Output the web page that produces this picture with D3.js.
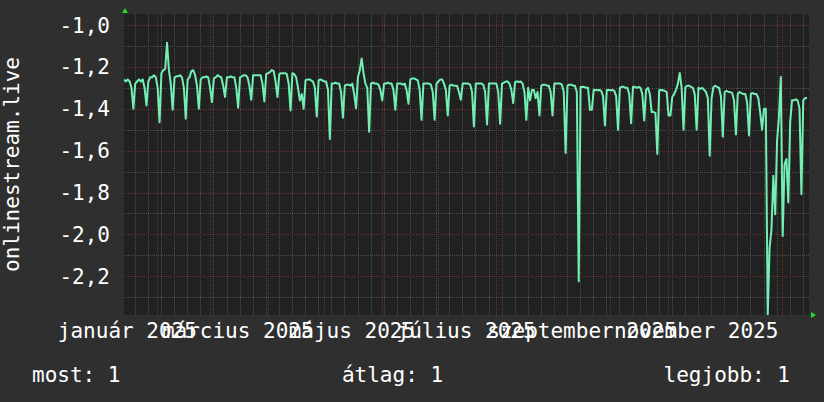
<!DOCTYPE html>
<html>
<head>
<meta charset="utf-8">
<script src="https://cdn.jsdelivr.net/npm/d3@7"></script>
<style>
  html, body { margin: 0; padding: 0; background: #2f2f2f; }
  svg { display: block; font-family: "DejaVu Sans Mono", monospace; }
</style>
</head>
<body>
<svg id="chart"></svg>
<script>
// time window of the graph and first sample
const startTime = "2025-01-14T05:00:00Z";
const endTime = "2026-01-15T06:30:00Z";
const firstSample = "2025-01-14T05:00:00Z";

// one value per day (rows = weeks, Sunday last)
const dailyValues = [
  -1.26, -1.27, -1.26, -1.27, -1.30, -1.40,
  -1.28, -1.27, -1.26, -1.27, -1.26, -1.30, -1.384,
  -1.27, -1.25, -1.25, -1.24, -1.25, -1.30, -1.464,
  -1.23, -1.215, -1.21, -1.085, -1.215, -1.28, -1.405,
  -1.25, -1.245, -1.245, -1.24, -1.25, -1.30, -1.448,
  -1.26, -1.25, -1.22, -1.216, -1.24, -1.29, -1.40,
  -1.26, -1.25, -1.25, -1.245, -1.25, -1.30, -1.368,
  -1.255, -1.25, -1.24, -1.245, -1.25, -1.29, -1.344,
  -1.25, -1.25, -1.245, -1.25, -1.25, -1.30, -1.395,
  -1.25, -1.245, -1.24, -1.24, -1.25, -1.29, -1.357,
  -1.24, -1.24, -1.24, -1.24, -1.24, -1.28, -1.365,
  -1.235, -1.23, -1.225, -1.215, -1.22, -1.27, -1.344,
  -1.235, -1.23, -1.23, -1.23, -1.235, -1.28, -1.408,
  -1.23, -1.235, -1.25, -1.30, -1.36, -1.33, -1.40,
  -1.265, -1.26, -1.26, -1.265, -1.27, -1.30, -1.437,
  -1.265, -1.26, -1.265, -1.27, -1.27, -1.31, -1.544,
  -1.28, -1.28, -1.275, -1.28, -1.28, -1.32, -1.443,
  -1.29, -1.285, -1.285, -1.29, -1.28, -1.33, -1.398,
  -1.25, -1.216, -1.16, -1.23, -1.28, -1.30, -1.51,
  -1.28, -1.275, -1.28, -1.28, -1.285, -1.31, -1.36,
  -1.28, -1.28, -1.275, -1.28, -1.28, -1.31, -1.405,
  -1.28, -1.28, -1.28, -1.285, -1.28, -1.31, -1.376,
  -1.26, -1.255, -1.255, -1.26, -1.265, -1.31, -1.453,
  -1.28, -1.28, -1.28, -1.28, -1.285, -1.32, -1.453,
  -1.28, -1.27, -1.26, -1.26, -1.28, -1.31, -1.432,
  -1.29, -1.285, -1.29, -1.29, -1.29, -1.32, -1.357,
  -1.28, -1.28, -1.28, -1.28, -1.285, -1.32, -1.485,
  -1.28, -1.28, -1.28, -1.28, -1.285, -1.32, -1.475,
  -1.28, -1.28, -1.28, -1.28, -1.28, -1.32, -1.472,
  -1.28, -1.275, -1.27, -1.27, -1.28, -1.31, -1.373,
  -1.272, -1.27, -1.272, -1.27, -1.28, -1.32, -1.453,
  -1.30, -1.36, -1.31, -1.31, -1.35, -1.32, -1.432,
  -1.29, -1.285, -1.285, -1.29, -1.29, -1.32, -1.432,
  -1.28, -1.28, -1.28, -1.28, -1.285, -1.32, -1.611,
  -1.29, -1.285, -1.285, -1.29, -1.29, -1.32, -2.224,
  -1.296, -1.295, -1.296, -1.30, -1.30, -1.405, -1.405,
  -1.31, -1.31, -1.312, -1.31, -1.315, -1.34, -1.48,
  -1.31, -1.31, -1.312, -1.31, -1.315, -1.34, -1.50,
  -1.30, -1.295, -1.295, -1.30, -1.30, -1.33, -1.469,
  -1.295, -1.295, -1.30, -1.295, -1.30, -1.33, -1.456,
  -1.31, -1.30, -1.33, -1.416, -1.416, -1.42, -1.616,
  -1.312, -1.31, -1.312, -1.315, -1.32, -1.432, -1.432,
  -1.344, -1.33, -1.31, -1.28, -1.229, -1.30, -1.50,
  -1.296, -1.29, -1.29, -1.295, -1.30, -1.33, -1.50,
  -1.30, -1.305, -1.30, -1.31, -1.32, -1.35, -1.624,
  -1.35, -1.296, -1.29, -1.296, -1.30, -1.34, -1.533,
  -1.32, -1.315, -1.32, -1.32, -1.325, -1.36, -1.523,
  -1.328, -1.32, -1.325, -1.33, -1.33, -1.37, -1.528,
  -1.328, -1.325, -1.33, -1.33, -1.35, -1.42, -1.50,
  -1.40, -1.40, -2.39, -2.064, -1.976, -1.72, -1.904,
  -1.552, -1.44, -1.248, -2.008, -1.664, -1.64, -1.848,
  -1.464, -1.36, -1.36, -1.355, -1.36, -1.40, -1.808,
  -1.36, -1.349, -1.349
];

const yTicks = [-1.0, -1.2, -1.4, -1.6, -1.8, -2.0, -2.2];
const yTickLabels = ["-1,0", "-1,2", "-1,4", "-1,6", "-1,8", "-2,0", "-2,2"];
const yDomain = [-2.385, -0.9475];

// x labels sit in the middle of every second month
const monthLabelDates = ["2025-01-16", "2025-03-16", "2025-05-16", "2025-07-16", "2025-09-16", "2025-11-16"];
const monthLabelTexts = ["január 2025", "március 2025", "május 2025", "július 2025", "szeptember 2025", "november 2025"];

const yTitle = "onlinestream.live";
const legendItems = ["most: 1", "átlag: 1", "legjobb: 1"];

const width = 824, height = 402;
const plot = { left: 124, right: 809, top: 14, bottom: 315 };
const colors = {
  bg: "#2f2f2f",
  plotBg: "#212121",
  minor: "#4e4e4e",
  major: "#6a2e2e",
  line: "#72f0b4",
  arrow: "#22dd22",
  text: "#ffffff"
};

const svg = d3.select("#chart").attr("width", width).attr("height", height);

svg.append("rect").attr("width", width).attr("height", height).attr("fill", colors.bg);
svg.append("rect")
  .attr("x", plot.left).attr("y", plot.top)
  .attr("width", plot.right - plot.left).attr("height", plot.bottom - plot.top)
  .attr("fill", colors.plotBg);

const x = d3.scaleUtc()
  .domain([new Date(startTime), new Date(endTime)])
  .range([plot.left, plot.right]);

const y = d3.scaleLinear()
  .domain(yDomain)
  .range([plot.bottom, plot.top]);

const t0 = new Date(firstSample);
const data = dailyValues.map((v, i) => ({ date: d3.utcDay.offset(t0, i), value: v }));

const grid = svg.append("g").attr("shape-rendering", "crispEdges");

// minor grid: every 0.1 and every Monday
const minorY = d3.range(-23, -9).map(v => v / 10).filter(v => !yTicks.some(t => Math.abs(t - v) < 1e-6));
grid.selectAll(".minor-h").data(minorY).enter().append("line")
  .attr("x1", plot.left).attr("x2", plot.right)
  .attr("y1", d => Math.round(y(d)) + 0.5).attr("y2", d => Math.round(y(d)) + 0.5)
  .attr("stroke", colors.minor).attr("stroke-dasharray", "1,1");

const mondays = d3.utcMonday.range(x.domain()[0], x.domain()[1]);
grid.selectAll(".minor-v").data(mondays).enter().append("line")
  .attr("x1", d => Math.round(x(d)) + 0.5).attr("x2", d => Math.round(x(d)) + 0.5)
  .attr("y1", plot.top).attr("y2", plot.bottom)
  .attr("stroke", colors.minor).attr("stroke-dasharray", "1,1");

// major grid: every 0.2 and first of month
grid.selectAll(".major-h").data(yTicks).enter().append("line")
  .attr("x1", plot.left - 2).attr("x2", plot.right + 1)
  .attr("y1", d => Math.round(y(d)) + 0.5).attr("y2", d => Math.round(y(d)) + 0.5)
  .attr("stroke", colors.major).attr("stroke-dasharray", "1,1");

const months = d3.utcMonth.range(x.domain()[0], x.domain()[1]);
grid.selectAll(".major-v").data(months).enter().append("line")
  .attr("x1", d => Math.round(x(d)) + 0.5).attr("x2", d => Math.round(x(d)) + 0.5)
  .attr("y1", plot.top).attr("y2", plot.bottom + 3)
  .attr("stroke", colors.major).attr("stroke-dasharray", "1,1");

// data line
svg.append("clipPath").attr("id", "clip")
  .append("rect")
  .attr("x", plot.left).attr("y", plot.top)
  .attr("width", plot.right - plot.left).attr("height", plot.bottom - plot.top);

const line = d3.line()
  .x(d => x(d.date))
  .y(d => y(d.value));

svg.append("path")
  .datum(data)
  .attr("clip-path", "url(#clip)")
  .attr("fill", "none")
  .attr("stroke", colors.line)
  .attr("stroke-width", 2)
  .attr("stroke-linejoin", "round")
  .attr("d", line);

// axis arrows
svg.append("path")
  .attr("d", `M${plot.left - 2},${plot.top - 1} L${plot.left + 4},${plot.top - 1} L${plot.left + 1},${plot.top - 6} Z`)
  .attr("fill", colors.arrow);
svg.append("path")
  .attr("d", `M${plot.right + 2},${plot.bottom - 3} L${plot.right + 2},${plot.bottom + 3} L${plot.right + 7},${plot.bottom} Z`)
  .attr("fill", colors.arrow);

// y tick labels
svg.append("g").selectAll("text").data(yTicks).enter().append("text")
  .attr("x", 110)
  .attr("y", d => y(d))
  .attr("dy", "0.36em")
  .attr("text-anchor", "end")
  .attr("fill", colors.text)
  .style("font-size", "21px")
  .text((d, i) => yTickLabels[i]);

// x labels
svg.append("g").selectAll("text").data(monthLabelDates).enter().append("text")
  .attr("x", d => x(new Date(d + "T00:00:00Z")))
  .attr("y", 337.5)
  .attr("text-anchor", "middle")
  .attr("fill", colors.text)
  .style("font-size", "21px")
  .text((d, i) => monthLabelTexts[i]);

// y axis title
svg.append("text")
  .attr("transform", `translate(19, ${(plot.top + plot.bottom) / 2}) rotate(-90)`)
  .attr("text-anchor", "middle")
  .attr("fill", colors.text)
  .style("font-size", "21px")
  .text(yTitle);

// legend line
const legendX = [32, 392.5, 790];
const legendAnchor = ["start", "middle", "end"];
svg.append("g").selectAll("text").data(legendItems).enter().append("text")
  .attr("x", (d, i) => legendX[i])
  .attr("y", 381.5)
  .attr("text-anchor", (d, i) => legendAnchor[i])
  .attr("fill", colors.text)
  .style("font-size", "21px")
  .text(d => d);
</script>
</body>
</html>
